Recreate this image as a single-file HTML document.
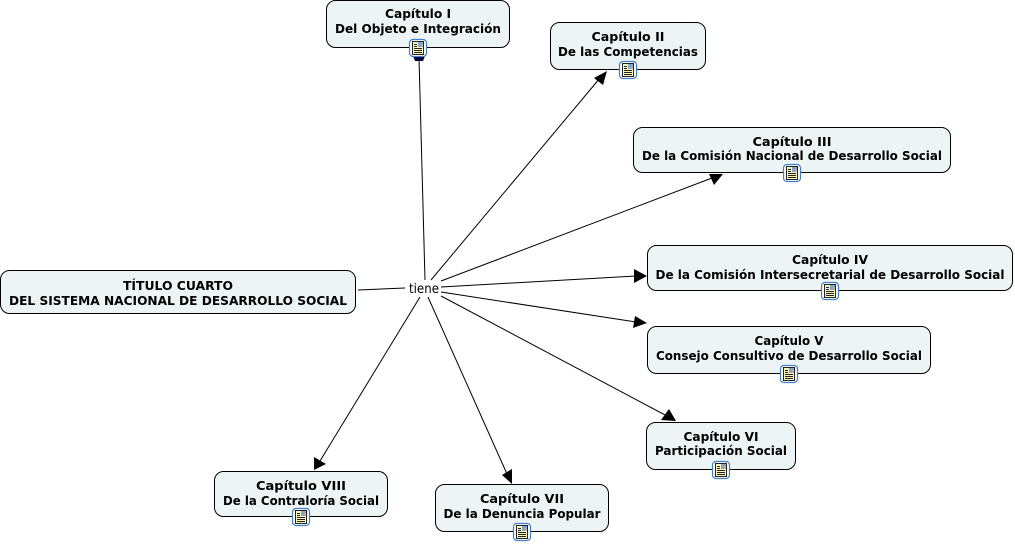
<!DOCTYPE html>
<html><head><meta charset="utf-8"><style>
html,body{margin:0;padding:0;background:#fff;width:1015px;height:544px;overflow:hidden}
svg{display:block}
.n{fill:#ecf4f6;stroke:#000;stroke-width:1}
.t{font-family:"DejaVu Sans","Liberation Sans",sans-serif;font-weight:bold;font-size:12.5px;fill:#000;text-anchor:middle}
.l{stroke:#000;stroke-width:1;fill:none}
</style></head><body>
<svg width="1015" height="544" viewBox="0 0 1015 544" xmlns="http://www.w3.org/2000/svg">
<defs>
<g id="ic">
<rect x="-8.500" y="-8.500" width="17" height="17" rx="3.500" fill="#fff" stroke="#3f7fcf" stroke-width="1.200"/>
<rect x="-5.500" y="-6.500" width="11" height="13" fill="#fbf6b8" stroke="#222" stroke-width="1"/>
<rect x="0" y="-6" width="5" height="5" fill="#7fa8c8"/>
<rect x="3" y="-4" width="2" height="3" fill="#d8a0a0"/>
<path d="M-4-3.500H-1M-4-1.500H-1M-4 0.500H4M-4 2.500H4M-4 4.500H4" stroke="#222" stroke-width="1" fill="none"/>
</g>
</defs>
<g class="l">
<line x1="358" y1="290" x2="405" y2="288"/>
<line x1="425" y1="280" x2="419" y2="58"/>
<line x1="431" y1="280" x2="600" y2="78"/>
<line x1="441" y1="281" x2="712" y2="178"/>
<line x1="441" y1="287" x2="636" y2="276"/>
<line x1="441" y1="292" x2="636" y2="322"/>
<line x1="441" y1="296" x2="667" y2="416"/>
<line x1="428" y1="297" x2="507" y2="474"/>
<line x1="420" y1="297" x2="320" y2="461"/>
</g>
<g fill="#000">
<polygon points="413,56 425,56 423,61 415,61" fill="#00003a"/>
<polygon points="607,71 594,78 603,85"/>
<polygon points="723,174 709,174 714,185"/>
<polygon points="647,276 634,269 634,283"/>
<polygon points="647,323 635,316 633,328"/>
<polygon points="676,421 669,409 661,420"/>
<polygon points="512,484 502,475 512,469"/>
<polygon points="314,470 314,457 326,464"/>
</g>
<rect class="n" x="326.500" y="0.500" width="183" height="47" rx="9"/>
<text class="t" x="418" y="18" textLength="66" lengthAdjust="spacingAndGlyphs">Capítulo I</text>
<text class="t" x="418" y="33" textLength="166" lengthAdjust="spacingAndGlyphs">Del Objeto e Integración</text>
<use href="#ic" x="418" y="48"/>
<rect class="n" x="550.500" y="22.500" width="155" height="47" rx="9"/>
<text class="t" x="628" y="41" textLength="73" lengthAdjust="spacingAndGlyphs">Capítulo II</text>
<text class="t" x="628" y="56" textLength="140" lengthAdjust="spacingAndGlyphs">De las Competencias</text>
<use href="#ic" x="628" y="70"/>
<rect class="n" x="633.500" y="127.500" width="317" height="45" rx="9"/>
<text class="t" x="792" y="146" textLength="79" lengthAdjust="spacingAndGlyphs">Capítulo III</text>
<text class="t" x="792" y="160" textLength="300" lengthAdjust="spacingAndGlyphs">De la Comisión Nacional de Desarrollo Social</text>
<use href="#ic" x="792" y="173"/>
<rect class="n" x="647.500" y="245.500" width="365" height="45" rx="9"/>
<text class="t" x="830" y="264" textLength="76" lengthAdjust="spacingAndGlyphs">Capítulo IV</text>
<text class="t" x="830" y="279" textLength="349" lengthAdjust="spacingAndGlyphs">De la Comisión Intersecretarial de Desarrollo Social</text>
<use href="#ic" x="830" y="291"/>
<rect class="n" x="647.500" y="326.500" width="283" height="47" rx="9"/>
<text class="t" x="789" y="345" textLength="69" lengthAdjust="spacingAndGlyphs">Capítulo V</text>
<text class="t" x="789" y="360" textLength="266" lengthAdjust="spacingAndGlyphs">Consejo Consultivo de Desarrollo Social</text>
<use href="#ic" x="789" y="374"/>
<rect class="n" x="646.500" y="422.500" width="149" height="47" rx="9"/>
<text class="t" x="721" y="441" textLength="75" lengthAdjust="spacingAndGlyphs">Capítulo VI</text>
<text class="t" x="721" y="455" textLength="132" lengthAdjust="spacingAndGlyphs">Participación Social</text>
<use href="#ic" x="721" y="470"/>
<rect class="n" x="435.500" y="484.500" width="173" height="47" rx="9"/>
<text class="t" x="522" y="503" textLength="84" lengthAdjust="spacingAndGlyphs">Capítulo VII</text>
<text class="t" x="522" y="518" textLength="157" lengthAdjust="spacingAndGlyphs">De la Denuncia Popular</text>
<use href="#ic" x="522" y="532"/>
<rect class="n" x="214.500" y="471.500" width="173" height="45" rx="9"/>
<text class="t" x="301" y="490" textLength="90" lengthAdjust="spacingAndGlyphs">Capítulo VIII</text>
<text class="t" x="301" y="505" textLength="156" lengthAdjust="spacingAndGlyphs">De la Contraloría Social</text>
<use href="#ic" x="301" y="517"/>
<rect class="n" x="0.500" y="270.500" width="355" height="43" rx="9"/>
<text class="t" x="178" y="290" textLength="110" lengthAdjust="spacingAndGlyphs">TÍTULO CUARTO</text>
<text class="t" x="178" y="305" textLength="338" lengthAdjust="spacingAndGlyphs">DEL SISTEMA NACIONAL DE DESARROLLO SOCIAL</text>
<text x="424" y="293" text-anchor="middle" font-family="'DejaVu Sans','Liberation Sans',sans-serif" font-size="13" textLength="30" lengthAdjust="spacingAndGlyphs">tiene</text>
</svg>
</body></html>
